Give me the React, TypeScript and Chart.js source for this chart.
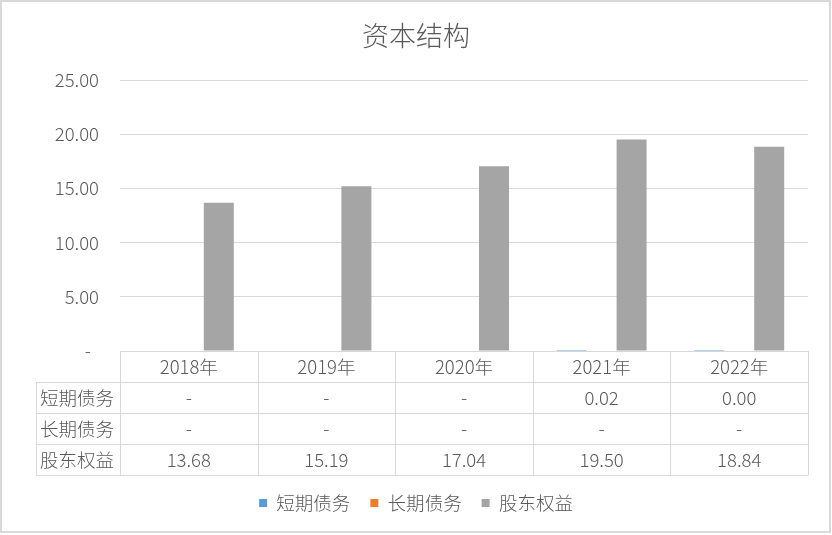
import { useEffect, useRef } from 'react'
import { Chart, registerables } from 'chart.js'

Chart.register(...registerables)

const categories = ['2018年', '2019年', '2020年', '2021年', '2022年']
const seriesNames = ['短期债务', '长期债务', '股东权益']
const shortDebt = [null, null, null, 0.02, 0.004]
const longDebt = [null, null, null, null, null]
const equity = [13.68, 15.19, 17.04, 19.5, 18.84]
const seriesColors = ['#5b9bd5', '#ed7d31', '#a5a5a5']

const FONT = "'Noto Sans CJK SC', 'Noto Sans', sans-serif"
const TEXT = '#595959'
const LINE = '#d9d9d9'

const fmt = (v: number | null) => (v == null ? '-' : v.toFixed(2))

// frame + white background
const framePlugin = {
  id: 'frame',
  beforeDraw(chart: any) {
    const { ctx, width, height } = chart
    ctx.save()
    ctx.fillStyle = '#ffffff'
    ctx.fillRect(0, 0, width, height)
    ctx.strokeStyle = LINE
    ctx.lineWidth = 2
    ctx.strokeRect(1, 1, 829, 531)
    ctx.restore()
  }
}

// Excel style data table under the plot
const tablePlugin = {
  id: 'dataTable',
  afterDraw(chart: any) {
    const { ctx, chartArea } = chart
    const rows = [shortDebt, longDebt, equity]
    const n = categories.length
    const colW = (chartArea.right - chartArea.left) / n
    const top = chartArea.bottom
    const rowH = 31.1
    const labelLeft = 36
    const bottom = top + rowH * (rows.length + 1)

    ctx.save()
    ctx.strokeStyle = LINE
    ctx.lineWidth = 1

    ctx.beginPath()
    ctx.moveTo(chartArea.left, Math.round(top) + 0.5)
    ctx.lineTo(chartArea.right, Math.round(top) + 0.5)
    for (let r = 1; r <= rows.length + 1; r++) {
      const y = Math.round(top + r * rowH) + 0.5
      ctx.moveTo(labelLeft, y)
      ctx.lineTo(chartArea.right, y)
    }
    for (let c = 0; c <= n; c++) {
      const x = Math.round(chartArea.left + c * colW) + 0.5
      ctx.moveTo(x, top)
      ctx.lineTo(x, bottom)
    }
    ctx.moveTo(labelLeft + 0.5, top + rowH)
    ctx.lineTo(labelLeft + 0.5, bottom)
    ctx.stroke()

    ctx.fillStyle = TEXT
    ctx.font = `300 18.5px ${FONT}`
    ctx.textBaseline = 'middle'
    ctx.textAlign = 'center'
    categories.forEach((cat, i) => {
      ctx.fillText(cat, chartArea.left + (i + 0.5) * colW, top + rowH / 2)
    })
    rows.forEach((vals, r) => {
      const y = top + (r + 1.5) * rowH
      ctx.textAlign = 'left'
      ctx.fillText(seriesNames[r], labelLeft + 4, y)
      ctx.textAlign = 'center'
      vals.forEach((v, i) => {
        ctx.fillText(fmt(v), chartArea.left + (i + 0.5) * colW, y)
      })
    })
    ctx.restore()
  }
}

export default function App() {
  const chartRef = useRef<HTMLCanvasElement>(null)
  const chartInstance = useRef<Chart | null>(null)

  useEffect(() => {
    if (!chartRef.current) return
    if (chartInstance.current) chartInstance.current.destroy()

    const ctx = chartRef.current.getContext('2d')
    if (!ctx) return

    Chart.defaults.font.family = FONT
    Chart.defaults.color = TEXT

    const data = {
      labels: categories,
      datasets: [shortDebt, longDebt, equity].map((vals, i) => ({
        label: seriesNames[i],
        data: vals,
        backgroundColor: seriesColors[i],
        borderWidth: 0,
        minBarLength: i === 0 ? 1 : 0,
        categoryPercentage: 0.654,
        barPercentage: 1
      }))
    }

    const options: any = {
      responsive: false,
      animation: false,
      layout: { padding: { left: 0, right: 0, top: 0, bottom: 12.75 } },
      plugins: {
        tooltip: { enabled: false },
        title: {
          display: true,
          text: '资本结构',
          color: TEXT,
          font: { size: 27, weight: '300' },
          padding: { top: 20, bottom: 27.6 }
        },
        legend: {
          position: 'bottom',
          labels: {
            boxWidth: 8,
            boxHeight: 8,
            padding: 20,
            color: TEXT,
            font: { size: 18.5, weight: '300' }
          }
        }
      },
      scales: {
        x: {
          ticks: { display: false },
          grid: { display: false },
          border: { display: false },
          afterFit(scale: any) {
            scale.height = 122.75
          }
        },
        y: {
          min: 0,
          max: 25,
          ticks: {
            stepSize: 5,
            padding: 21,
            color: TEXT,
            font: { size: 18.5, weight: '300' },
            callback: (v: any) => (v === 0 ? '-  ' : Number(v).toFixed(2))
          },
          grid: { color: LINE, drawTicks: false },
          border: { display: false },
          afterFit(scale: any) {
            scale.width = 120
          }
        },
        // empty right axis, only keeps the plot clear of the right edge
        yRight: {
          position: 'right',
          ticks: { display: false },
          grid: { display: false },
          border: { display: false },
          afterFit(scale: any) {
            scale.width = 24
          }
        }
      }
    }

    chartInstance.current = new Chart(ctx, {
      type: 'bar',
      data: data as any,
      options,
      plugins: [framePlugin, tablePlugin]
    })

    return () => {
      if (chartInstance.current) {
        chartInstance.current.destroy()
        chartInstance.current = null
      }
    }
  }, [])

  return (
    <div style={{ position: 'absolute', left: 0, top: 0, width: 832, height: 535 }}>
      <canvas ref={chartRef} width={832} height={535} style={{ width: 832, height: 535 }} />
    </div>
  )
}
